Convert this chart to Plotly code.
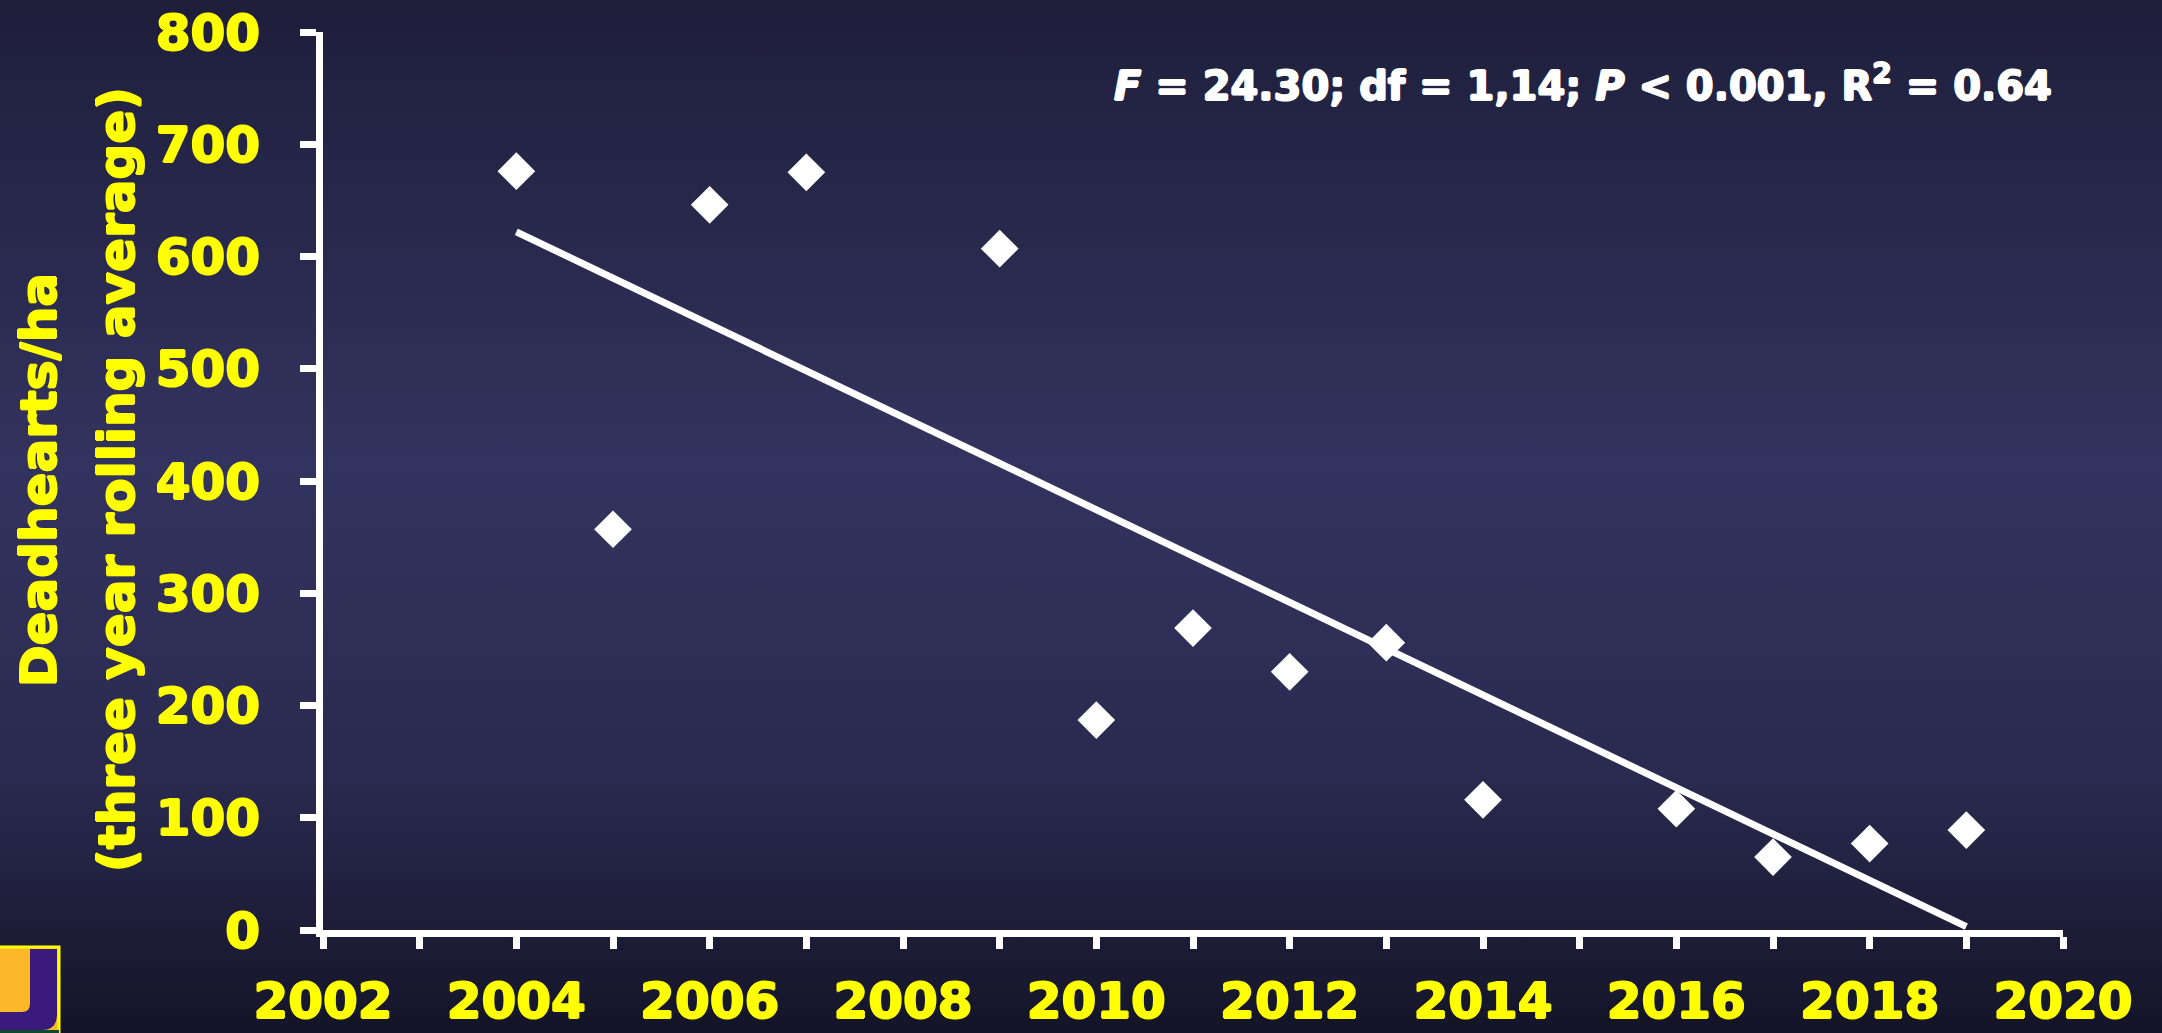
import base64
import plotly.graph_objects as go

# ---------------- data ----------------
years = [2004, 2005, 2006, 2007, 2009, 2010, 2011, 2012, 2013, 2014, 2016, 2017, 2018, 2019]
deadhearts = [676, 357, 646, 675, 607, 187, 269, 230, 256, 116, 108, 65, 77, 89]
trend_years = [2004, 2019]
trend_values = [622, 3]
x_tickvals = [2002, 2004, 2006, 2008, 2010, 2012, 2014, 2016, 2018, 2020]
x_ticktext = [str(v) for v in x_tickvals]
y_tickvals = [0, 100, 200, 300, 400, 500, 600, 700, 800]
y_title_line1 = "Deadhearts/ha"
y_title_line2 = "(three year rolling average)"
stats_text = "<i>F</i> = 24.30; df = 1,14; <i>P</i> &lt; 0.001, R<sup>2</sup> = 0.64"

# ---------------- layout geometry ----------------
W, H = 2162, 1033
ML, MR, MT, MB = 323, 99, 32, 103
PW, PH = W - ML - MR, H - MT - MB


def px(xp):
    return (xp - ML) / PW


def py(yp):
    return (H - MB - yp) / PH


YELLOW = "#ffff00"
FONT = "DejaVu Sans"
Y_SHADOW = "1px 0 0 #ffff00, -1px 0 0 #ffff00, 0 1px 0 #ffff00, 0 -1px 0 #ffff00"
W_SHADOW = "1px 0 0 #ffffff, -1px 0 0 #ffffff, 0 1px 0 #ffffff, 0 -1px 0 #ffffff"

fig = go.Figure()
fig.add_trace(go.Scatter(
    x=trend_years, y=trend_values, mode="lines",
    line=dict(color="white", width=7), hoverinfo="skip", showlegend=False,
))
fig.add_trace(go.Scatter(
    x=years, y=deadhearts, mode="markers",
    marker=dict(symbol="diamond", size=29, color="white", line=dict(width=0)),
    showlegend=False,
))

# background gradient as svg image
svg = (
    '<svg xmlns="http://www.w3.org/2000/svg" width="100" height="100" '
    'viewBox="0 0 100 100" preserveAspectRatio="none">'
    '<defs><linearGradient id="g" x1="0" y1="0" x2="0" y2="1">'
    '<stop offset="0" stop-color="#1e1e3b"/>'
    '<stop offset="0.45" stop-color="#33335f"/>'
    '<stop offset="0.75" stop-color="#2a2a50"/>'
    '<stop offset="1" stop-color="#141428"/>'
    '</linearGradient></defs>'
    '<rect width="100" height="100" fill="url(#g)"/></svg>'
)
src = "data:image/svg+xml;base64," + base64.b64encode(svg.encode()).decode()


def path(cmds):
    s = ""
    for cmd, pts in cmds:
        s += cmd + " " + " ".join(f"{px(a):.5f},{py(b):.5f}" for a, b in pts) + " "
    return s + "Z"


logo_u = path([
    ("M", [(30, 949)]), ("L", [(57, 949)]), ("L", [(57, 1014)]),
    ("Q", [(57, 1030), (42, 1030)]), ("L", [(-5, 1030)]), ("L", [(-5, 1012)]),
    ("L", [(22, 1012)]), ("Q", [(30, 1012), (30, 1004)]),
])

shapes = [
    dict(type="rect", xref="paper", yref="paper", x0=px(-10), x1=px(59), y0=py(947), y1=py(1040),
         fillcolor="#fbb829", line=dict(color=YELLOW, width=3), layer="above"),
    dict(type="path", xref="paper", yref="paper", path=logo_u, fillcolor="#3a1b7c",
         line=dict(width=0), layer="above"),
    dict(type="rect", xref="paper", yref="paper", x0=px(-10), x1=px(59), y0=py(1030), y1=py(1040),
         fillcolor="#0d4a2c", line=dict(width=0), layer="above"),
]

tickfont = dict(family=FONT, size=50, color=YELLOW, weight="bold", shadow=Y_SHADOW)

fig.update_layout(
    width=W, height=H,
    margin=dict(l=ML, r=MR, t=MT, b=MB, autoexpand=False),
    paper_bgcolor="#22224a", plot_bgcolor="rgba(0,0,0,0)",
    images=[dict(source=src, xref="paper", yref="paper", x=px(0), y=py(0),
                 sizex=W / PW, sizey=H / PH, xanchor="left", yanchor="top",
                 sizing="stretch", layer="below")],
    shapes=shapes,
    showlegend=False,
    xaxis=dict(
        range=[2002, 2020], tickvals=x_tickvals, ticktext=x_ticktext, automargin=False,
        showgrid=False, zeroline=False, showline=True, linecolor="white", linewidth=7,
        ticks="outside", ticklen=12, tickwidth=7, tickcolor="white",
        minor=dict(dtick=1, tick0=2002, ticks="outside", ticklen=12, tickwidth=7,
                   tickcolor="white", showgrid=False),
        tickfont=tickfont, ticklabelstandoff=9,
    ),
    yaxis=dict(
        range=[0, 800], tickvals=y_tickvals, automargin=False,
        showgrid=False, zeroline=False, showline=True, linecolor="white", linewidth=7,
        ticks="outside", ticklen=16, tickwidth=7, tickcolor="white",
        tickfont=tickfont, ticklabelstandoff=30,
    ),
    annotations=[
        dict(text=y_title_line1, xref="paper", yref="paper", x=px(39), y=py(480),
             xanchor="center", yanchor="middle", textangle=-90, showarrow=False,
             font=dict(family=FONT, size=50, color=YELLOW, weight="bold", shadow=Y_SHADOW)),
        dict(text=y_title_line2, xref="paper", yref="paper", x=px(117), y=py(480),
             xanchor="center", yanchor="middle", textangle=-90, showarrow=False,
             font=dict(family=FONT, size=50, color=YELLOW, weight="bold", shadow=Y_SHADOW)),
        dict(text=stats_text, xref="paper", yref="paper", x=px(1583), y=py(83),
             xanchor="center", yanchor="middle", showarrow=False,
             font=dict(family=FONT, size=40, color="white", weight="bold", shadow=W_SHADOW)),
    ],
)

fig.write_html("out.html")
